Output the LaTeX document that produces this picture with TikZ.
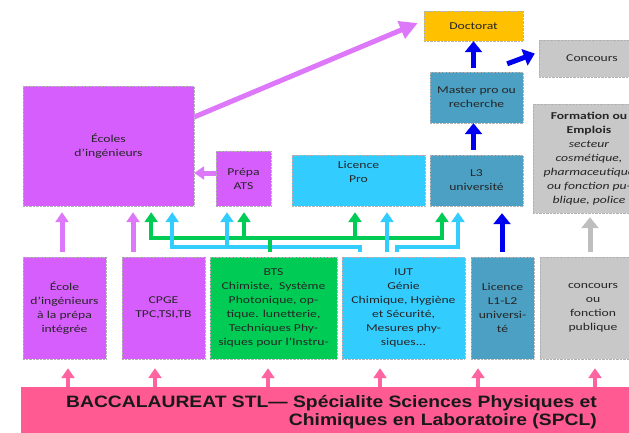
\documentclass[tikz,border=0pt]{standalone}
\usepackage{fontspec}
\setmainfont{Carlito}[FakeStretch=1.3]
\newfontfamily\bacfont{Liberation Sans}[FakeStretch=1.17]
\usetikzlibrary{
    arrows.meta, % For block arrow tips
    calc,        % For coordinate calculations
    positioning  % For relative placement
}
\definecolor{ecolecol}{RGB}{214,94,252}
\definecolor{ecolearr}{RGB}{222,120,250}
\definecolor{btscol}{RGB}{0,204,85}
\definecolor{iutcol}{RGB}{51,204,255}
\definecolor{univcol}{RGB}{75,160,195}
\definecolor{greycol}{RGB}{200,200,200}
\definecolor{greyarr}{RGB}{190,190,190}
\definecolor{doccol}{RGB}{255,192,0}
\definecolor{bluearr}{RGB}{0,0,240}
\definecolor{baccol}{RGB}{255,90,145}
\definecolor{bacarr}{RGB}{255,100,160}

\begin{document}
\begin{tikzpicture}[
    x=1pt, y=-1pt, % picture coordinates in pixels, y downwards
    box/.style={draw=gray!60, densely dotted, rectangle, align=center,
        inner sep=1pt, text=black!85, font=\fontsize{10.5}{14}\selectfont},
    % block arrows
    purparrow/.style={ecolearr, line width=5pt, -{Triangle[width=13pt,length=10pt]}},
    grnarrow/.style={btscol, line width=4pt, -{Triangle[width=13pt,length=10pt]}},
    cyanarrow/.style={iutcol, line width=4pt, -{Triangle[width=13pt,length=10pt]}},
    bluearrow/.style={bluearr, line width=5pt, -{Triangle[width=17pt,length=11pt]}},
    greyarrow/.style={greyarr, line width=5pt, -{Triangle[width=17pt,length=11pt]}},
    bacarrow/.style={bacarr, line width=4.5pt, -{Triangle[width=13pt,length=10pt]}}
]
    \useasboundingbox (0,0) rectangle (629,432);

    % Upper level
    \node[box, fill=ecolecol, minimum width=171pt, minimum height=120pt] (ecoles) at (108.5,146) {Écoles\\d’ingénieurs};
    \node[box, fill=ecolecol, minimum width=55pt, minimum height=55pt] (atsprep) at (243.5,178.5) {Prépa\\ATS};
    \node[box, fill=doccol, minimum width=99pt, minimum height=30pt] (doct) at (473.5,26) {Doctorat};
    \node[box, fill=greycol, minimum width=106pt, minimum height=37pt] (concours) at (592,58.5) {Concours};
    \node[box, fill=univcol, minimum width=93pt, minimum height=51pt] (master) at (476.5,97.5) {Master pro ou\\recherche};
    \node[box, fill=univcol, minimum width=93pt, minimum height=51pt] (lthree) at (476.5,180.5) {L3\\université};
    \node[box, fill=iutcol, minimum width=133pt, minimum height=51pt] (lpro) at (358.5,180.5) {Licence\\Pro\\[4pt]};
    \node[box, fill=greycol, minimum width=112pt, minimum height=109pt] (formation) at (589,158.5)
        {\textbf{Formation ou}\\\textbf{Emplois}\\\textit{secteur}\\\textit{cosmétique,}\\\textit{pharmaceutique}\\\textit{ou fonction pu-}\\\textit{blique, police}};

    % Lower level
    \node[box, fill=ecolecol, minimum width=83pt, minimum height=102pt] (prepaint) at (64.5,308) {École\\d’ingénieurs\\à la prépa\\intégrée};
    \node[box, fill=ecolecol, minimum width=83pt, minimum height=102pt] (cpge) at (163.5,308) {CPGE\\TPC,TSI,TB};
    \node[box, fill=btscol, minimum width=127pt, minimum height=102pt] (bts) at (273.5,308)
        {BTS\\Chimiste,~ Système\\Photonique, op-\\tique. lunetterie,\\Techniques Phy-\\siques pour l’Instru-};
    \node[box, fill=iutcol, minimum width=123pt, minimum height=102pt] (iut) at (403.5,308)
        {IUT\\Génie\\Chimique, Hygiène\\et Sécurité,\\Mesures phy-\\siques...};
    \node[box, fill=univcol, minimum width=63pt, minimum height=102pt] (licence) at (502.5,308) {Licence\\L1-L2\\universi-\\té};
    \node[box, fill=greycol, minimum width=106pt, minimum height=102pt] (concfp) at (593,308) {concours\\ou\\fonction\\publique};

    % Baccalaureat band
    \node[fill=baccol, rectangle, inner sep=0pt, minimum width=625pt, minimum height=55pt, anchor=north west] (bac) at (21,387) {};
    \node[anchor=base east, align=right, inner sep=0pt, text=black!90,
        font=\bacfont\bfseries\fontsize{16.5}{18}\selectfont] (bactext) at (597,425)
        {BACCALAUREAT STL— Spécialite Sciences Physiques et\\Chimiques en Laboratoire (SPCL)};

    % Arrows from the baccalaureat
    \foreach \src/\dx in {prepaint/3.5, cpge/-8.5, bts/-5.5, iut/-23.5, licence/-24.5, concfp/2}
        \draw[bacarrow] ([xshift=\dx pt]\src.south |- bac.north) -- ([xshift=\dx pt,yshift=-9pt]\src.south);

    % Towards the engineering schools
    \draw[purparrow] ($(prepaint.north)+(-2.5,-5)$) -- ($(ecoles.south)+(-46.5,6)$);
    \draw[purparrow] ($(cpge.north)+(-30.5,-5)$) -- ($(ecoles.south)+(24.5,6)$);
    \coordinate (atsout) at ($(atsprep.west)+(0,-5.5)$);
    \draw[purparrow] (atsout) -- (ecoles.east |- atsout);
    \draw[ecolearr, line width=5pt, -{Triangle[width=18pt,length=18pt]}]
        ($(ecoles.east)+(0,-29)$) -- ($(doct.west)+(-6,-3)$);

    % BTS branches
    \coordinate (gj) at ($(bts.north)+(-3.5,-19)$);
    \draw[grnarrow] (gj) -| ($(ecoles.south east)+(-43,6)$);
    \draw[grnarrow] (gj) -| ($(atsprep.south)+(0.5,6)$);
    \draw[grnarrow] (gj) -| ($(lpro.south)+(-3.5,6)$);
    \draw[grnarrow] (gj) -| ($(lthree.south)+(-34.5,6)$);

    % IUT branches
    \coordinate (cl) at ($(iut.north)+(-43.5,-5)$);
    \coordinate (cr) at ($(iut.north)+(-6.5,-5)$);
    \draw[cyanarrow] (cl) -- ++(0,-5) -| ($(ecoles.south east)+(-22,6)$);
    \draw[cyanarrow] (cl) -- ++(0,-5) -| ($(atsprep.south)+(-16.5,6)$);
    \draw[cyanarrow] ($(iut.north)+(-16.5,-5)$) -- ($(lpro.south)+(28.5,6)$);
    \draw[cyanarrow] (cr) -- ++(0,-5) -| ($(lthree.south)+(-18.5,6)$);
    \draw[btscol, line width=4pt] ($(bts.north)+(-3.5,-5)$) -- (gj);

    % University track
    \draw[bluearrow] ($(licence.north)+(-0.5,-5)$) -- ($(lthree.south)+(25.5,7)$);
    \draw[bluearrow] ($(lthree.north)+(-3,-5)$) -- ($(master.south)+(-3,0)$);
    \draw[bluearrow] ($(master.north)+(-3,-4)$) -- ($(doct.south)+(-0,0)$);
    \draw[bluearrow] ($(master.north east)+(-16,-8)$) -- ($(concours.west)+(-4,-5)$);

    % Towards jobs
    \draw[greyarrow] ($(concfp.north)+(-3,-5)$) -- ($(formation.south)+(1,4)$);

\end{tikzpicture}
\end{document}
